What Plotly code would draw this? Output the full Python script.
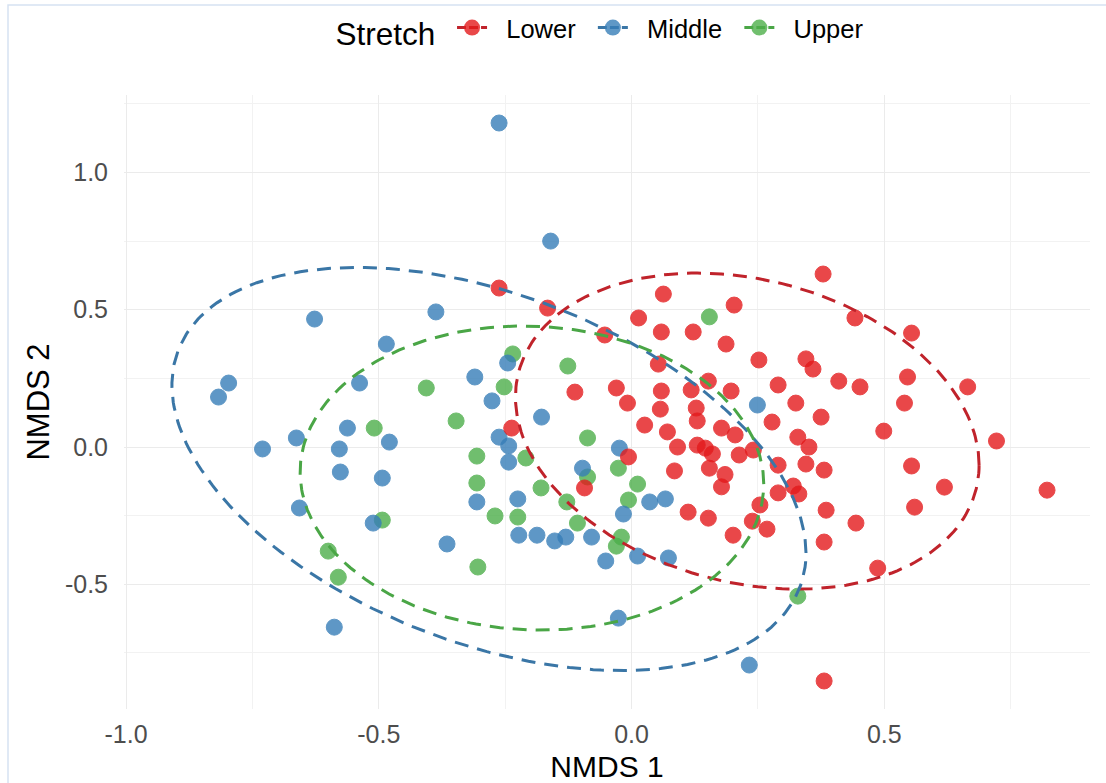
import numpy as np
import plotly.graph_objects as go

# ---------------- data ----------------
groups = ["Lower", "Middle", "Upper"]
point_colors = {"Lower": "#E41A1C", "Middle": "#377EB8", "Upper": "#4DAF4A"}
line_colors = {"Lower": "#C0232B", "Middle": "#3A76A6", "Upper": "#4AA646"}

lower_x = [-0.262, -0.166, -0.053, 0.063, 0.203, 0.014, 0.059, 0.122, 0.187, 0.053,
           0.152, -0.112, -0.030, -0.008, 0.059, 0.057, 0.118, 0.128, 0.197, 0.130,
           0.026, 0.071, 0.178, 0.205, -0.237, 0.252, 0.290, 0.278, 0.091, 0.130,
           0.146, 0.160, -0.006, 0.085, 0.154, 0.185, 0.178, 0.213, 0.241, 0.290,
           0.290, 0.112, 0.152, 0.254, 0.239, 0.268, 0.201, 0.325, 0.375, 0.499,
           0.329, 0.351, 0.381, 0.345, -0.093, 0.320, 0.331, 0.385, 0.444, 0.381,
           0.487, 0.381, 0.379, 0.442, 0.554, 0.345, 0.359, 0.410, 0.452, 0.546,
           0.665, 0.540, 0.722, 0.554, 0.619, 0.822, 0.560]
lower_y = [0.579, 0.506, 0.408, 0.557, 0.517, 0.470, 0.419, 0.419, 0.375, 0.302,
           0.240, 0.200, 0.215, 0.160, 0.204, 0.138, 0.208, 0.142, 0.204, 0.095,
           0.080, 0.055, 0.069, 0.044, 0.069, 0.317, 0.226, 0.091, 0.000, 0.007,
           -0.004, -0.025, -0.036, -0.087, -0.077, -0.100, -0.145, -0.029, -0.011, -0.066,
           -0.167, -0.237, -0.259, -0.211, -0.270, -0.299, -0.321, 0.160, 0.109, 0.058,
           0.036, 0.000, -0.084, -0.062, -0.149, -0.142, -0.171, -0.230, -0.277, -0.346,
           -0.441, -0.852, 0.630, 0.470, 0.415, 0.321, 0.284, 0.240, 0.219, 0.255,
           0.219, 0.160, 0.022, -0.069, -0.146, -0.157, -0.219]

middle_x = [-0.262, -0.160, -0.387, -0.627, -0.485, -0.797, -0.817, -0.538, -0.310, -0.245,
            -0.276, -0.178, -0.262, -0.243, -0.243, -0.097, -0.024, -0.306, -0.225, -0.730,
            -0.663, -0.562, -0.578, -0.576, -0.479, -0.493, -0.657, -0.511, -0.365, -0.588,
            -0.223, -0.187, -0.152, -0.130, -0.079, -0.051, -0.016, 0.036, 0.067, 0.012,
            0.073, -0.026, 0.233, 0.249]
middle_y = [1.180, 0.750, 0.492, 0.466, 0.375, 0.233, 0.182, 0.233, 0.255, 0.306,
            0.168, 0.109, 0.036, 0.004, -0.055, -0.077, -0.004, -0.200, -0.189, -0.007,
            0.033, 0.069, -0.007, -0.091, 0.018, -0.113, -0.222, -0.277, -0.353, -0.656,
            -0.321, -0.321, -0.342, -0.328, -0.328, -0.415, -0.244, -0.200, -0.189, -0.397,
            -0.404, -0.623, -0.794, 0.153]

upper_x = [0.154, -0.126, -0.235, -0.252, -0.406, -0.347, -0.509, -0.087, -0.306, -0.209,
           -0.306, -0.179, -0.128, -0.087, -0.026, 0.012, -0.006, -0.107, -0.020, -0.030,
           0.329, -0.270, -0.225, -0.304, -0.493, -0.600, -0.580]
upper_y = [0.474, 0.295, 0.339, 0.219, 0.215, 0.095, 0.069, 0.033, -0.033, -0.040,
           -0.131, -0.149, -0.200, -0.109, -0.077, -0.135, -0.193, -0.277, -0.328, -0.361,
           -0.543, -0.251, -0.255, -0.437, -0.266, -0.379, -0.474]

# 95% ellipse: centre and shape matrix (per group)
ellipse_center = {"Lower": [0.229, 0.058], "Middle": [-0.282, -0.080], "Upper": [-0.197, -0.113]}
ellipse_shape = {"Lower": [[0.2103, -0.0568], [-0.0568, 0.3313]],
                 "Middle": [[0.3934, -0.1919], [-0.1919, 0.5388]],
                 "Upper": [[0.2103, -0.0101], [-0.0101, 0.3066]]}

x_ticks = [-1.0, -0.5, 0.0, 0.5]
x_tick_labels = ["-1.0", "-0.5", "0.0", "0.5"]
y_ticks = [-0.5, 0.0, 0.5, 1.0]
y_tick_labels = ["-0.5", "0.0", "0.5", "1.0"]
minor_ticks = [-0.75, -0.25, 0.25, 0.75, 1.25]

data = {"Lower": (lower_x, lower_y), "Middle": (middle_x, middle_y), "Upper": (upper_x, upper_y)}

FONT = "Liberation Sans, Arial, sans-serif"
NB = "\u00a0"
THIN = "\u2009"
fig = go.Figure()

# points (drawn green, blue, red)
for g in ["Upper", "Middle", "Lower"]:
    xs, ys = data[g]
    fig.add_trace(go.Scatter(
        x=xs, y=ys, mode="markers", name=g, showlegend=False, legendgroup=g,
        marker=dict(size=16, color=point_colors[g], opacity=0.8,
                    line=dict(width=1, color=point_colors[g])),
        hoverinfo="x+y+name"))

# ellipses
t = np.linspace(0, 2 * np.pi, 240)
circle = np.vstack([np.cos(t), np.sin(t)])
for g in groups:
    L = np.linalg.cholesky(np.array(ellipse_shape[g]))
    pts = (L @ circle).T + np.array(ellipse_center[g])
    fig.add_trace(go.Scatter(
        x=pts[:, 0], y=pts[:, 1], mode="lines", showlegend=False, legendgroup=g,
        line=dict(color=line_colors[g], width=3, dash="14px,9px"), hoverinfo="skip"))

# legend keys
for g in groups:
    fig.add_trace(go.Scatter(
        x=[None], y=[None], mode="lines+markers", name=NB * 2 + g + NB + THIN, legendgroup=g,
        marker=dict(size=16, color=point_colors[g], opacity=0.8),
        line=dict(color=line_colors[g], width=3, dash="9px,3px")))

axis_common = dict(
    showgrid=True, gridcolor="#EBEBEB", gridwidth=1.4,
    zeroline=False, showline=False, automargin=False,
    ticks="outside", tickcolor="rgba(0,0,0,0)",
    tickfont=dict(family=FONT, size=25, color="#4D4D4D"),
    minor=dict(tickvals=minor_ticks, showgrid=True, gridcolor="#F2F2F2", gridwidth=0.9, ticks=""),
)

fig.update_layout(
    width=1106, height=783,
    margin=dict(l=124, r=16, t=95, b=74),
    paper_bgcolor="white", plot_bgcolor="white",
    font=dict(family=FONT, color="black"),
    xaxis=dict(range=[-1.004, 0.907], tickvals=x_ticks, ticktext=x_tick_labels, ticklen=3,
               title=dict(text="NMDS 1", font=dict(family=FONT, size=30, color="black"), standoff=8),
               **axis_common),
    yaxis=dict(range=[-0.954, 1.282], tickvals=y_ticks, ticktext=y_tick_labels, ticklen=10,
               title=dict(text="NMDS 2", font=dict(family=FONT, size=31, color="black"), standoff=6),
               **axis_common),
    legend=dict(orientation="h", x=0.5, xanchor="center", y=1 - 30 / 783, yref="container",
                yanchor="middle",
                title=dict(text="Stretch" + NB, font=dict(family=FONT, size=31.5, color="black")),
                font=dict(family=FONT, size=25.5, color="black"), itemwidth=30,
                bgcolor="rgba(0,0,0,0)"),
    shapes=[dict(type="rect", xref="paper", yref="paper",
                 x0=(8 - 124) / 966, x1=1.2, y0=-0.3, y1=(709 - 5) / 614,
                 line=dict(color="#D6E2F2", width=1.5), fillcolor="rgba(0,0,0,0)", layer="below")],
)

fig.write_html("out.html", config={"displayModeBar": False},
               post_script="document.body.style.margin='0';")
